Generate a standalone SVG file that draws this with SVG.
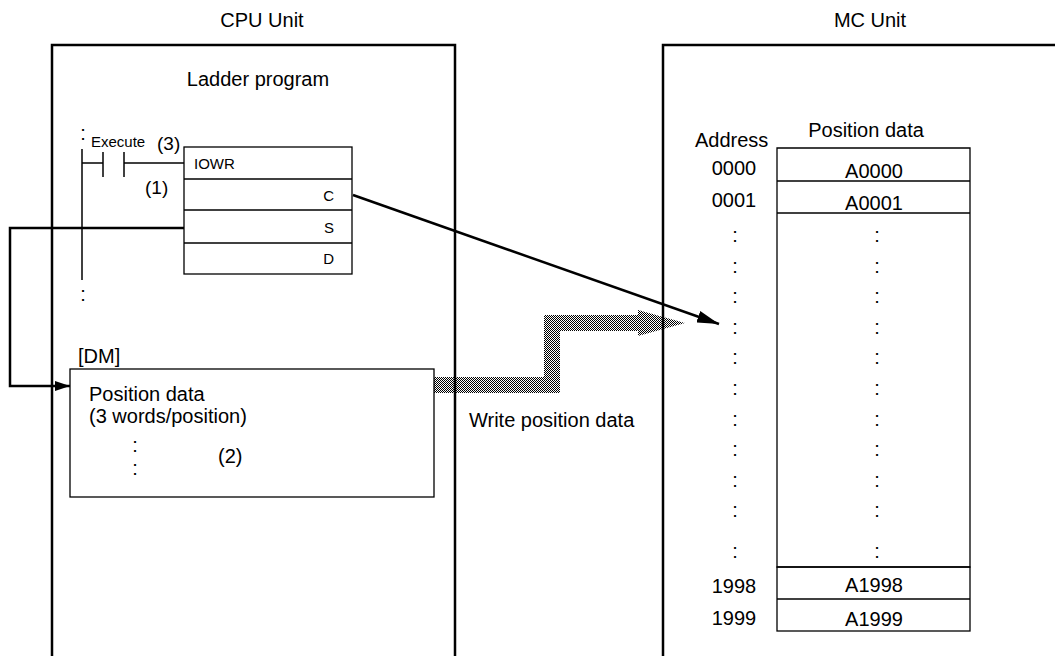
<svg xmlns="http://www.w3.org/2000/svg" width="1055" height="656" viewBox="0 0 1055 656">
<style>
text{font-family:"Liberation Sans",Arial,sans-serif;fill:#000}
.t20{font-size:20px}
.t15{font-size:15px}
.mid{text-anchor:middle}
.end{text-anchor:end}
.thick{fill:none;stroke:#000;stroke-width:2.5}
.thin{fill:none;stroke:#000;stroke-width:1.3}
.wire{fill:none;stroke:#000;stroke-width:1.5}
</style>
<defs>
<pattern id="chk" width="2" height="2" patternUnits="userSpaceOnUse">
<rect width="2" height="2" fill="#fff"/>
<rect width="1" height="1" fill="#000"/>
<rect x="1" y="1" width="1" height="1" fill="#000"/>
</pattern>
<marker id="ah" viewBox="0 0 22 12" refX="22" refY="6" markerWidth="22" markerHeight="12" markerUnits="userSpaceOnUse" orient="auto">
<path d="M0,0 L22,6 L0,12 Z" fill="#000"/>
</marker>
<marker id="ah2" viewBox="0 0 15 10" refX="15" refY="5" markerWidth="15" markerHeight="10" markerUnits="userSpaceOnUse" orient="auto">
<path d="M0,0 L15,5 L0,10 Z" fill="#000"/>
</marker>
</defs>

<g id="connectors">
<path id="write-arrow" d="M434,377 L544,377 L544,315 L638,315 L638,310 L685,323 L638,336 L638,331 L560,331 L560,393 L434,393 Z" fill="url(#chk)"/>
<path d="M184,228 H10 V386 H70" class="thick" marker-end="url(#ah2)"/>
<path d="M353,195 L719,324" class="thick" marker-end="url(#ah)"/>
</g>

<g id="cpu-unit">
<text class="t20 mid" x="262" y="27">CPU Unit</text>
<path d="M52,660 V45 H455 V660" class="thick"/>
<text class="t20 mid" x="258" y="86">Ladder program</text>
</g>

<g id="ladder">
<text class="t20 mid" x="83" y="140">:</text>
<line x1="82" y1="149" x2="82" y2="280" class="wire"/>
<text class="t20 mid" x="83" y="301">:</text>
<line x1="82" y1="163" x2="103" y2="163" class="wire"/>
<line x1="103" y1="152" x2="103" y2="177" class="wire"/>
<line x1="124" y1="152" x2="124" y2="177" class="wire"/>
<line x1="124" y1="163" x2="184" y2="163" class="wire"/>
<text class="t15" x="91" y="147">Execute</text>
<text style="font-size:19px" x="157" y="150">(3)</text>
<text style="font-size:19px" x="145" y="194">(1)</text>
</g>

<g id="iowr">
<rect x="184" y="147" width="168" height="127" class="thin" fill="#fff"/>
<line x1="184" y1="179" x2="352" y2="179" class="thin"/>
<line x1="184" y1="210" x2="352" y2="210" class="thin"/>
<line x1="184" y1="243" x2="352" y2="243" class="thin"/>
<text class="t15" x="194" y="169">IOWR</text>
<text class="t15 end" x="334" y="201">C</text>
<text class="t15 end" x="334" y="233">S</text>
<text class="t15 end" x="334" y="264">D</text>
</g>

<g id="dm">
<text class="t20" x="78" y="363">[DM]</text>
<rect x="70" y="369" width="364" height="128" class="thin"/>
<text class="t20" x="89" y="401">Position data</text>
<text class="t20" x="89" y="423">(3 words/position)</text>
<text class="t20 mid" x="135" y="452">:</text>
<text class="t20 mid" x="135" y="475">:</text>
<text class="t20" x="218" y="463">(2)</text>
</g>

<g id="write-label">
<text class="t20" x="469" y="427">Write position data</text>
</g>

<g id="mc-unit">
<text class="t20 mid" x="870" y="27">MC Unit</text>
<path d="M663,660 V45 H1060" class="thick"/>
</g>

<g id="mc-table">
<text class="t20" x="695" y="147">Address</text>
<text class="t20 mid" x="866" y="137">Position data</text>
<path d="M777,148 H970 V567 H777 Z" class="thin"/>
<line x1="777" y1="181" x2="970" y2="181" class="thin"/>
<line x1="777" y1="213" x2="970" y2="213" class="thin"/>
<rect x="777" y="567" width="193" height="64" class="thin"/>
<line x1="777" y1="599" x2="970" y2="599" class="thin"/>
<text class="t20 mid" x="734" y="175">0000</text>
<text class="t20 mid" x="874" y="178">A0000</text>
<text class="t20 mid" x="734" y="207">0001</text>
<text class="t20 mid" x="874" y="210">A0001</text>
<g class="t20 mid">
<text x="735" y="242">:</text><text x="877" y="242">:</text>
<text x="735" y="273">:</text><text x="877" y="273">:</text>
<text x="735" y="303">:</text><text x="877" y="303">:</text>
<text x="735" y="334">:</text><text x="877" y="334">:</text>
<text x="735" y="364">:</text><text x="877" y="364">:</text>
<text x="735" y="395">:</text><text x="877" y="395">:</text>
<text x="735" y="426">:</text><text x="877" y="426">:</text>
<text x="735" y="456">:</text><text x="877" y="456">:</text>
<text x="735" y="487">:</text><text x="877" y="487">:</text>
<text x="735" y="517">:</text><text x="877" y="517">:</text>
<text x="735" y="558">:</text><text x="877" y="558">:</text>
</g>
<text class="t20 mid" x="734" y="593">1998</text>
<text class="t20 mid" x="874" y="592">A1998</text>
<text class="t20 mid" x="734" y="625">1999</text>
<text class="t20 mid" x="874" y="626">A1999</text>
</g>
</svg>
